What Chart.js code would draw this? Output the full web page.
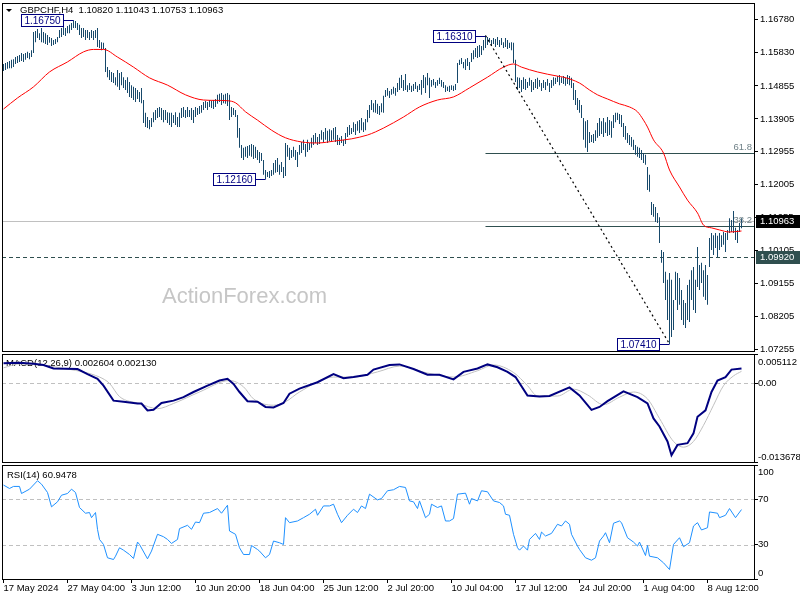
<!DOCTYPE html>
<html>
<head>
<meta charset="utf-8">
<script src="https://cdn.jsdelivr.net/npm/chart.js@4.4.1/dist/chart.umd.min.js"></script>
<style>
  html, body { margin: 0; padding: 0; background: #fff; }
  #wrap { position: relative; width: 800px; height: 600px; overflow: hidden; background: #fff; }
  canvas { position: absolute; left: 0; }
</style>
</head>
<body>
<div id="wrap">
  <canvas id="price" width="800" height="358" style="top:0"></canvas>
  <canvas id="macd" width="800" height="111" style="top:353px"></canvas>
  <canvas id="rsi" width="800" height="136" style="top:464px"></canvas>
</div>
<script>
// ---- data ----
const highs = [
  1.1549,1.1552,1.1555,1.1558,1.1561,1.1563,1.1569,1.1572,1.1575,1.1581,
  1.1578,1.1581,1.1584,1.1581,1.1589,1.1641,1.1644,1.1650,1.1638,1.1653,
  1.1641,1.1638,1.1633,1.1627,1.1624,1.1618,1.1621,1.1627,1.1647,1.1653,
  1.1656,1.1653,1.1659,1.1662,1.1667,1.1675,1.1673,1.1667,1.1662,1.1653,
  1.1653,1.1647,1.1647,1.1641,1.1647,1.1644,1.1647,1.1653,1.1618,1.1612,
  1.1610,1.1595,1.1540,1.1532,1.1526,1.1523,1.1511,1.1532,1.1523,1.1526,
  1.1511,1.1503,1.1511,1.1497,1.1488,1.1483,1.1480,1.1474,1.1468,1.1480,
  1.1445,1.1408,1.1396,1.1387,1.1393,1.1410,1.1416,1.1422,1.1425,1.1422,
  1.1416,1.1416,1.1410,1.1408,1.1408,1.1402,1.1410,1.1396,1.1408,1.1422,
  1.1425,1.1416,1.1425,1.1416,1.1422,1.1416,1.1425,1.1422,1.1428,1.1431,
  1.1439,1.1442,1.1439,1.1445,1.1442,1.1445,1.1448,1.1460,1.1463,1.1465,
  1.1460,1.1463,1.1465,1.1460,1.1425,1.1422,1.1416,1.1402,1.1364,1.1315,
  1.1307,1.1310,1.1312,1.1315,1.1318,1.1315,1.1310,1.1301,1.1295,1.1292,
  1.1272,1.1243,1.1237,1.1240,1.1243,1.1263,1.1272,1.1278,1.1258,1.1266,
  1.1252,1.1321,1.1315,1.1307,1.1301,1.1310,1.1301,1.1295,1.1315,1.1324,
  1.1330,1.1318,1.1330,1.1321,1.1336,1.1344,1.1350,1.1338,1.1347,1.1358,
  1.1353,1.1364,1.1356,1.1361,1.1358,1.1364,1.1367,1.1344,1.1336,1.1341,
  1.1330,1.1350,1.1367,1.1373,1.1364,1.1381,1.1376,1.1384,1.1387,1.1393,
  1.1381,1.1390,1.1416,1.1431,1.1445,1.1436,1.1445,1.1434,1.1428,1.1436,
  1.1457,1.1474,1.1480,1.1471,1.1477,1.1483,1.1480,1.1494,1.1509,1.1517,
  1.1503,1.1520,1.1488,1.1494,1.1486,1.1491,1.1497,1.1486,1.1491,1.1503,
  1.1517,1.1511,1.1523,1.1509,1.1503,1.1506,1.1497,1.1503,1.1509,1.1503,
  1.1497,1.1488,1.1483,1.1486,1.1488,1.1486,1.1491,1.1552,1.1561,1.1566,
  1.1555,1.1563,1.1566,1.1555,1.1581,1.1589,1.1595,1.1601,1.1604,1.1601,
  1.1618,1.1631,1.1627,1.1624,1.1618,1.1624,1.1621,1.1627,1.1618,1.1624,
  1.1612,1.1624,1.1618,1.1610,1.1612,1.1610,1.1561,1.1511,1.1509,1.1503,
  1.1511,1.1506,1.1497,1.1509,1.1503,1.1497,1.1506,1.1509,1.1503,1.1494,
  1.1503,1.1497,1.1506,1.1494,1.1503,1.1511,1.1509,1.1514,1.1517,1.1511,
  1.1514,1.1509,1.1517,1.1514,1.1509,1.1494,1.1474,1.1451,1.1445,1.1431,
  1.1393,1.1384,1.1387,1.1353,1.1344,1.1347,1.1358,1.1379,1.1393,1.1384,
  1.1393,1.1381,1.1396,1.1387,1.1384,1.1402,1.1408,1.1408,1.1405,1.1402,
  1.1379,1.1370,1.1350,1.1344,1.1338,1.1330,1.1315,1.1310,1.1307,1.1301,
  1.1292,1.1287,1.1252,1.1229,1.1151,1.1145,1.1136,1.1119,1.1107,1.1012,
  1.1006,1.0949,1.0926,1.0946,1.0926,1.0868,1.0949,1.0946,1.0931,1.0897,
  1.0868,1.0859,1.0911,1.0926,1.0954,1.0963,1.0926,1.1021,1.0969,1.0975,
  1.0954,1.0969,1.0940,1.1047,1.1061,1.1055,1.1061,1.1053,1.1061,1.1055,
  1.1064,1.1061,1.1070,1.1104,1.1099,1.1125,1.1076,1.1070,1.1090,1.1104
];
const lows = [
  1.1529,1.1532,1.1535,1.1537,1.1537,1.1540,1.1549,1.1552,1.1555,1.1558,
  1.1555,1.1561,1.1566,1.1563,1.1569,1.1581,1.1612,1.1624,1.1618,1.1612,
  1.1610,1.1607,1.1604,1.1610,1.1601,1.1604,1.1607,1.1612,1.1624,1.1627,
  1.1633,1.1630,1.1638,1.1638,1.1647,1.1653,1.1653,1.1647,1.1633,1.1624,
  1.1627,1.1618,1.1624,1.1618,1.1624,1.1618,1.1624,1.1598,1.1595,1.1589,
  1.1592,1.1526,1.1511,1.1503,1.1497,1.1494,1.1488,1.1483,1.1474,1.1488,
  1.1480,1.1474,1.1465,1.1454,1.1451,1.1445,1.1439,1.1448,1.1439,1.1436,
  1.1379,1.1367,1.1364,1.1361,1.1367,1.1381,1.1387,1.1393,1.1396,1.1387,
  1.1381,1.1387,1.1379,1.1373,1.1367,1.1379,1.1373,1.1367,1.1367,1.1393,
  1.1396,1.1393,1.1396,1.1396,1.1387,1.1379,1.1396,1.1402,1.1405,1.1408,
  1.1416,1.1422,1.1416,1.1425,1.1422,1.1419,1.1425,1.1434,1.1439,1.1431,
  1.1436,1.1434,1.1428,1.1387,1.1396,1.1402,1.1396,1.1336,1.1307,1.1278,
  1.1272,1.1281,1.1278,1.1284,1.1281,1.1275,1.1278,1.1272,1.1263,1.1269,
  1.1229,1.1216,1.1223,1.1220,1.1226,1.1229,1.1235,1.1237,1.1229,1.1237,
  1.1220,1.1226,1.1281,1.1272,1.1278,1.1281,1.1272,1.1252,1.1287,1.1292,
  1.1301,1.1281,1.1295,1.1301,1.1307,1.1315,1.1321,1.1315,1.1318,1.1330,
  1.1324,1.1330,1.1321,1.1327,1.1324,1.1330,1.1324,1.1315,1.1315,1.1321,
  1.1312,1.1318,1.1338,1.1344,1.1347,1.1353,1.1344,1.1356,1.1350,1.1358,
  1.1353,1.1358,1.1381,1.1393,1.1416,1.1410,1.1408,1.1405,1.1402,1.1410,
  1.1408,1.1454,1.1457,1.1451,1.1460,1.1463,1.1457,1.1468,1.1474,1.1480,
  1.1471,1.1474,1.1468,1.1474,1.1468,1.1471,1.1477,1.1468,1.1474,1.1460,
  1.1480,1.1465,1.1488,1.1451,1.1483,1.1488,1.1480,1.1486,1.1491,1.1483,
  1.1480,1.1468,1.1471,1.1468,1.1474,1.1471,1.1474,1.1494,1.1546,1.1549,
  1.1537,1.1532,1.1543,1.1532,1.1555,1.1563,1.1569,1.1566,1.1569,1.1575,
  1.1589,1.1595,1.1604,1.1610,1.1601,1.1607,1.1598,1.1604,1.1598,1.1604,
  1.1595,1.1598,1.1592,1.1595,1.1589,1.1552,1.1497,1.1474,1.1480,1.1468,
  1.1477,1.1474,1.1480,1.1486,1.1468,1.1474,1.1480,1.1477,1.1483,1.1471,
  1.1480,1.1474,1.1486,1.1468,1.1480,1.1486,1.1491,1.1497,1.1488,1.1494,
  1.1491,1.1486,1.1491,1.1488,1.1480,1.1445,1.1431,1.1416,1.1408,1.1393,
  1.1330,1.1307,1.1295,1.1321,1.1324,1.1321,1.1327,1.1336,1.1341,1.1347,
  1.1338,1.1350,1.1341,1.1344,1.1336,1.1364,1.1381,1.1387,1.1376,1.1367,
  1.1338,1.1330,1.1321,1.1315,1.1310,1.1301,1.1287,1.1281,1.1278,1.1272,
  1.1263,1.1258,1.1185,1.1180,1.1113,1.1108,1.1093,1.1090,1.1032,1.0975,
  1.0917,1.0868,1.0810,1.0741,1.0761,1.0781,1.0868,1.0839,1.0854,1.0810,
  1.0796,1.0787,1.0810,1.0804,1.0868,1.0839,1.0830,1.0905,1.0897,1.0917,
  1.0877,1.0868,1.0854,1.0963,1.1012,1.0998,1.1018,1.0992,1.1012,1.1021,
  1.1027,1.1006,1.1041,1.1061,1.1064,1.1061,1.1041,1.1032,1.1064,1.1075
];

// moving average (red), sampled along the bars
const maIdx = [0,7,15,23,32,40,45,50,57,65,73,82,91,100,106,112,116,121,127,134,141,149,157,166,174,182,186,190,200,208,217,225,233,242,250,255,259,267,277,280,288,293,297,302,308,313,317,320,322,325,330,333,338,342,347,350,354,358,363,369];
const maVals = [1.1419,1.1451,1.1483,1.1526,1.1555,1.1584,1.1591,1.1591,1.1569,1.1540,1.1509,1.1488,1.1460,1.1445,1.1444,1.1443,1.1437,1.1411,1.1387,1.1358,1.1336,1.1324,1.1321,1.1327,1.1333,1.1344,1.1353,1.1364,1.1396,1.1425,1.1445,1.1454,1.1480,1.1511,1.1540,1.1549,1.1540,1.1526,1.1514,1.1511,1.1494,1.1474,1.1460,1.1448,1.1434,1.1425,1.1411,1.1387,1.1367,1.1330,1.1292,1.1243,1.1194,1.1156,1.1119,1.1084,1.1076,1.1070,1.1064,1.1067];

// MACD(12,26,9)
const macdIdx = [0,8,15,20,25,37,42,47,50,55,60,67,69,72,75,79,85,90,95,102,108,112,115,118,122,127,131,135,140,143,148,157,165,170,175,182,185,193,198,205,212,218,225,230,237,242,247,252,256,262,268,273,283,288,294,298,302,310,317,322,325,328,332,334,337,342,345,347,351,354,357,361,364,369];
const macdMain = [0.0035,0.0036,0.0034,0.0032,0.0026,0.0025,0.0016,0.0008,-0.0004,-0.0030,-0.0032,-0.0035,-0.0035,-0.0047,-0.0046,-0.0034,-0.0030,-0.0024,-0.0015,-0.0004,0.0005,0.0008,-0.0001,-0.0015,-0.0031,-0.0032,-0.0041,-0.0042,-0.0034,-0.0018,-0.0009,0.0002,0.0016,0.0009,0.0011,0.0015,0.0024,0.0032,0.0033,0.0025,0.0015,0.0015,0.0007,0.0020,0.0026,0.0033,0.0028,0.0020,0.0011,-0.0021,-0.0023,-0.0022,-0.0007,-0.0021,-0.0046,-0.0041,-0.0031,-0.0014,-0.0024,-0.0035,-0.0061,-0.0075,-0.0101,-0.0125,-0.0107,-0.0104,-0.0087,-0.0058,-0.0047,-0.0015,0.0005,0.0011,0.0024,0.0026];
const signalIdx = [0,8,32,48,53,58,68,77,85,98,113,120,125,135,141,148,165,175,187,198,212,225,237,245,255,262,267,277,285,292,300,308,315,322,328,335,340,345,350,355,360,365,369];
const signalVals = [0.0027,0.0034,0.0025,0.0011,0.0000,-0.0023,-0.0035,-0.0044,-0.0035,-0.0015,0.0005,-0.0006,-0.0027,-0.0038,-0.0032,-0.0015,0.0011,0.0011,0.0020,0.0030,0.0018,0.0011,0.0022,0.0032,0.0019,-0.0004,-0.0022,-0.0022,-0.0010,-0.0020,-0.0037,-0.0024,-0.0015,-0.0027,-0.0061,-0.0101,-0.0111,-0.0101,-0.0073,-0.0038,-0.0004,0.0013,0.0021];

// RSI(14)
const rsiIdx = [0,3,5,8,9,13,17,19,22,24,27,29,32,34,36,38,41,43,44,46,47,48,50,52,55,56,58,60,63,65,67,68,72,74,77,80,82,84,87,88,92,94,96,98,100,103,107,109,112,113,116,118,120,123,124,127,128,131,133,135,138,140,141,143,147,150,153,156,157,160,163,165,167,169,172,175,177,179,181,183,187,189,192,195,198,201,203,205,207,208,211,213,214,217,219,221,223,225,227,231,233,234,237,239,242,245,248,250,251,253,255,257,258,260,262,263,266,268,269,271,274,277,279,281,283,284,287,288,291,294,296,298,300,301,303,305,308,309,312,315,317,318,321,322,323,327,330,333,335,338,340,343,345,347,349,352,353,357,358,361,363,366,369];
const rsiVals = [82.4,79.4,81.2,81.2,75,78.8,86.2,83.2,75.9,63.3,67.7,73.5,75,78.8,75.9,62.7,57.7,58.3,53.8,58.3,43.6,34.7,30.3,18.6,17.1,20,27.4,25.3,21.5,18,32.4,30.3,17.7,24.5,39.2,37.1,34.7,31.2,34.7,44.2,47.1,43.6,50,49.4,57.7,58.3,61.8,57.7,64.7,42.1,39.2,27.4,21.5,21.5,29.4,25.9,24.5,18.6,21.5,33.3,31.8,30.3,53.8,49.4,50.9,53.8,56.8,61.2,55.9,64.1,64.1,65.6,56.8,49.4,55.9,61.2,58.3,64.1,61.8,74.4,69.4,70.6,77.4,78.3,81.2,80.3,68.5,67.7,61.8,68.5,53.8,56.8,65.6,62.7,64.1,50.9,50.9,53,74.4,75.3,65.6,70.6,68.5,77.4,76.5,68.5,67.1,64.1,56.8,55.9,39.2,27.4,25.3,28.9,25.3,34.7,40,34.7,41.2,37.7,40,48,46.5,50.9,48,39.2,28.9,25.9,18.6,16.5,18.6,33.3,37.7,40.6,31.8,48.9,50.9,49.4,36.2,32.4,28.9,32.4,20.6,29.4,20,18.6,14.2,8.3,30.3,36.2,28.3,31.8,46.5,49.4,43,45,58.8,57.7,53.8,55.9,61.8,53.8,60.9];

// axes, labels and drawn objects
const priceTicks = [1.16780,1.15830,1.14855,1.13905,1.12955,1.12005,1.11055,1.10105,1.09155,1.08205,1.07255];
const dateTickIdx = [0,32,64,96,128,160,192,224,256,288,320,352];
const dateLabels = ['17 May 2024','27 May 04:00','3 Jun 12:00','10 Jun 20:00','18 Jun 04:00','25 Jun 12:00','2 Jul 20:00','10 Jul 04:00','17 Jul 12:00','24 Jul 20:00','1 Aug 04:00','8 Aug 12:00'];
const swingIdx = [35, 131, 241, 333];
const swingVals = [1.16750, 1.12160, 1.16310, 1.07410];
const fibLevels = [61.8, 38.2];
const lastClose = 1.10963;
const levelLine = 1.09920;
const titleText = 'GBPCHF,H4  1.10820 1.11043 1.10753 1.10963';
const macdText = 'MACD(12,26,9) 0.002604 0.002130';
const rsiText = 'RSI(14) 60.9478';

const FONT = "'Liberation Sans', Arial, sans-serif";
Chart.defaults.font.family = FONT;
Chart.defaults.font.size = 9.5;
Chart.defaults.color = '#000';

const X_MIN = -0.75, X_MAX = 375.25;
const P_MAX = 1.172505, P_MIN = 1.07206;
const MACD_MAX = 0.005112, MACD_MIN = -0.013678;

const fibHigh = swingVals[2], fibLow = swingVals[3];
const fibPrice = l => fibLow + (fibHigh - fibLow) * l / 100;

function xAxis(show) {
  return {
    type: 'linear', min: X_MIN, max: X_MAX, offset: false, display: show,
    afterBuildTicks: ax => { ax.ticks = dateTickIdx.map(v => ({ value: v })); },
    ticks: { autoSkip: false, maxRotation: 0, align: 'start', padding: 0,
      callback: v => dateLabels[dateTickIdx.indexOf(v)] },
    grid: { drawOnChartArea: false, drawTicks: true, tickLength: 4, color: '#000', offset: false },
    border: { display: false },
    afterFit: ax => {
      if (!show) return;
      ax.height = 21; ax.paddingLeft = 0; ax.paddingRight = 0;
    }
  };
}

function yAxis(min, max, ticks, fmt) {
  return {
    type: 'linear', position: 'right', min, max,
    afterBuildTicks: ax => { ax.ticks = ticks.map(v => ({ value: v })); },
    ticks: { autoSkip: false, padding: 2, callback: fmt },
    grid: { drawOnChartArea: false, drawTicks: true, tickLength: 4, color: '#000' },
    border: { display: false },
    afterFit: ax => { ax.width = 46; ax.paddingTop = 0; ax.paddingBottom = 0; }
  };
}

const base = {
  responsive: false, animation: false, devicePixelRatio: 1, events: [],
  plugins: { legend: { display: false }, tooltip: { enabled: false } }
};

function hline(ctx, x1, x2, y, color, dash) {
  ctx.save();
  ctx.strokeStyle = color; ctx.lineWidth = 1; ctx.setLineDash(dash);
  ctx.beginPath(); ctx.moveTo(x1, y); ctx.lineTo(x2, y); ctx.stroke();
  ctx.restore();
}

const framePlugin = {
  id: 'frame',
  afterDraw(chart) {
    const { ctx, chartArea: a } = chart;
    ctx.save();
    ctx.strokeStyle = '#000'; ctx.lineWidth = 1;
    ctx.strokeRect(Math.round(a.left) + 0.5, Math.round(a.top) + 0.5, Math.round(a.width), Math.round(a.height));
    ctx.restore();
  }
};

function sideLabels(list) {
  return {
    id: 'side',
    afterDraw(chart) {
      const { ctx, chartArea: a, scales: { y } } = chart;
      ctx.save();
      ctx.font = '9.5px ' + FONT; ctx.fillStyle = '#000';
      ctx.textAlign = 'left'; ctx.textBaseline = 'middle';
      list.forEach(([v, t, dy]) => ctx.fillText(t, a.right + 4, y.getPixelForValue(v) + dy));
      ctx.restore();
    }
  };
}

const priceDeco = {
  id: 'priceDeco',
  beforeDatasetsDraw(chart) {
    const { ctx, chartArea: a, scales: { x, y } } = chart;
    const py = v => Math.round(y.getPixelForValue(v)) + 0.5;
    ctx.save();
    ctx.font = '22px ' + FONT; ctx.fillStyle = '#c6c6c6';
    ctx.textAlign = 'left'; ctx.textBaseline = 'alphabetic';
    ctx.fillText('ActionForex.com', 162, 303);
    ctx.beginPath(); ctx.rect(a.left, a.top, a.width, a.height); ctx.clip();
    hline(ctx, a.left, a.right, py(lastClose), '#c0c0c0', []);
    hline(ctx, a.left, a.right, py(levelLine), '#2f4f4f', [4, 3]);
    const fx = x.getPixelForValue(swingIdx[2]);
    fibLevels.forEach(l => hline(ctx, fx, a.right, py(fibPrice(l)), '#2f4f4f', []));
    ctx.restore();
  },
  afterDatasetsDraw(chart) {
    const { ctx, scales: { x, y } } = chart;
    ctx.save();
    // dotted trendline swing high -> swing low
    ctx.strokeStyle = '#000'; ctx.lineWidth = 1.2; ctx.setLineDash([2, 3]);
    ctx.beginPath();
    ctx.moveTo(x.getPixelForValue(swingIdx[2]), y.getPixelForValue(swingVals[2]));
    ctx.lineTo(x.getPixelForValue(swingIdx[3]), y.getPixelForValue(swingVals[3]));
    ctx.stroke();
    ctx.restore();
  },
  afterDraw(chart) {
    const { ctx, chartArea: a, scales: { x, y } } = chart;
    ctx.save();
    // title
    ctx.fillStyle = '#000';
    ctx.beginPath(); ctx.moveTo(6, 9); ctx.lineTo(12, 9); ctx.lineTo(9, 12); ctx.closePath(); ctx.fill();
    ctx.font = '9.5px ' + FONT; ctx.textAlign = 'left'; ctx.textBaseline = 'middle';
    ctx.fillText(titleText, 20, 10.5);
    // fib texts
    ctx.fillStyle = '#6f8087'; ctx.textAlign = 'right'; ctx.textBaseline = 'alphabetic';
    fibLevels.forEach(l => ctx.fillText(l.toFixed(1), a.right - 2, y.getPixelForValue(fibPrice(l)) - 3));
    // swing price labels
    ctx.font = '10px ' + FONT; ctx.textAlign = 'center'; ctx.textBaseline = 'middle';
    swingIdx.forEach((i, k) => {
      const bx = x.getPixelForValue(i);
      const by = Math.round(y.getPixelForValue(swingVals[k])) + 0.5;
      const r = bx - 10, l = r - 42;
      ctx.fillStyle = '#fff'; ctx.fillRect(l, by - 6, 42, 12);
      ctx.strokeStyle = '#000080'; ctx.lineWidth = 1; ctx.setLineDash([]);
      ctx.strokeRect(l, by - 6, 42, 12);
      ctx.beginPath(); ctx.moveTo(r, by); ctx.lineTo(bx, by); ctx.stroke();
      ctx.fillStyle = '#000080';
      ctx.fillText(swingVals[k].toFixed(5), (l + r) / 2, by + 0.5);
    });
    // price boxes on the axis
    ctx.font = '9.5px ' + FONT; ctx.textAlign = 'left';
    [[lastClose, '#000000'], [levelLine, '#2f4f4f']].forEach(([v, c]) => {
      const cy = Math.round(y.getPixelForValue(v));
      ctx.fillStyle = c; ctx.fillRect(a.right + 2, cy - 6, 46, 13);
      ctx.fillStyle = '#fff'; ctx.fillText(v.toFixed(5), a.right + 6, cy + 0.5);
    });
    ctx.restore();
  }
};

function paneText(text, px, py) {
  return {
    id: 'paneText',
    beforeDatasetsDraw(chart) {
      const { ctx } = chart;
      ctx.save();
      ctx.font = '9.5px ' + FONT; ctx.fillStyle = '#000';
      ctx.textAlign = 'left'; ctx.textBaseline = 'middle';
      ctx.fillText(text, px, py);
      ctx.restore();
    }
  };
}

function dashedLevels(levels) {
  return {
    id: 'levels',
    beforeDatasetsDraw(chart) {
      const { ctx, chartArea: a, scales: { y } } = chart;
      levels.forEach(v => hline(ctx, a.left, a.right, Math.round(y.getPixelForValue(v)) + 0.5, '#c0c0c0', [4, 3]));
    }
  };
}

// ---- price pane ----
new Chart(document.getElementById('price'), {
  type: 'bar',
  data: {
    datasets: [
      { type: 'line', data: maIdx.map((x, k) => ({ x, y: maVals[k] })), borderColor: '#ff0000',
        borderWidth: 1, pointRadius: 0, cubicInterpolationMode: 'monotone', order: 0 },
      { type: 'bar', data: highs.map((h, i) => ({ x: i, y: [lows[i], h] })), backgroundColor: '#17496b',
        barThickness: 1, borderWidth: 0, inflateAmount: 0, order: 1 }
    ]
  },
  options: {
    ...base,
    layout: { padding: { left: 2, right: 0, top: 3, bottom: 7 } },
    scales: { x: xAxis(false), y: yAxis(P_MIN, P_MAX, priceTicks, v => v.toFixed(5)) }
  },
  plugins: [priceDeco, framePlugin]
});

// ---- MACD pane ----
new Chart(document.getElementById('macd'), {
  type: 'line',
  data: {
    datasets: [
      { data: macdIdx.map((x, k) => ({ x, y: macdMain[k] })), borderColor: '#000080', borderWidth: 2, pointRadius: 0, order: 0 },
      { data: signalIdx.map((x, k) => ({ x, y: signalVals[k] })), borderColor: '#c0c0c0', borderWidth: 1,
        pointRadius: 0, cubicInterpolationMode: 'monotone', order: 1 }
    ]
  },
  options: {
    ...base,
    layout: { padding: { left: 2, right: 0, top: 1, bottom: 2 } },
    scales: { x: xAxis(false), y: yAxis(MACD_MIN, MACD_MAX, [MACD_MAX, 0, MACD_MIN], () => '') }
  },
  plugins: [dashedLevels([0]), paneText(macdText, 6, 10),
    sideLabels([[MACD_MAX, '0.005112', 8], [0, '0.00', 0], [MACD_MIN, '-0.013678', -5]]), framePlugin]
});

// ---- RSI pane ----
new Chart(document.getElementById('rsi'), {
  type: 'line',
  data: {
    datasets: [
      { data: rsiIdx.map((x, k) => ({ x, y: rsiVals[k] })), borderColor: '#1e90ff', borderWidth: 1, pointRadius: 0 }
    ]
  },
  options: {
    ...base,
    layout: { padding: { left: 2, right: 0, top: 1, bottom: 0 } },
    scales: { x: xAxis(true), y: yAxis(0, 100, [100, 70, 30, 0], () => '') }
  },
  plugins: [dashedLevels([70, 30]), paneText(rsiText, 7, 11),
    sideLabels([[100, '100', 7], [70, '70', 0], [30, '30', 0], [0, '0', -6]]), framePlugin]
});
</script>
</body>
</html>
